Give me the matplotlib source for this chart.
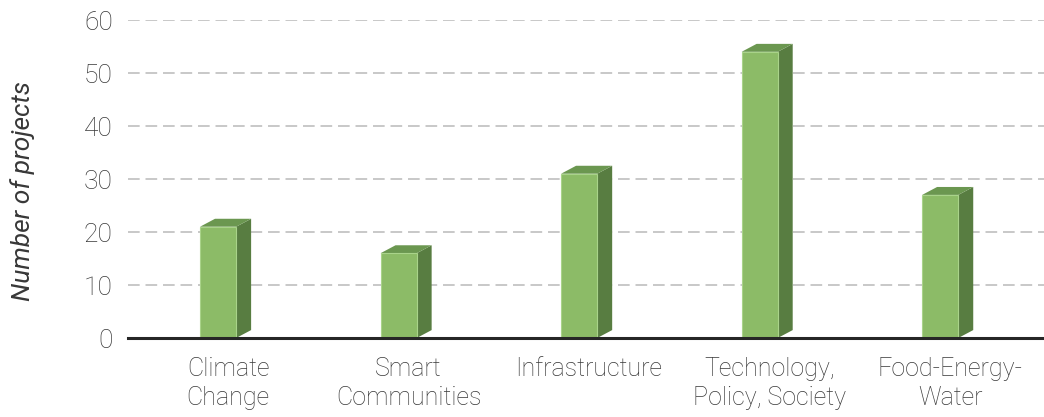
import numpy as np
import matplotlib.pyplot as plt
from matplotlib.patches import Polygon

categories = ["Climate\nChange", "Smart\nCommunities", "Infrastructure",
              "Technology,\nPolicy, Society", "Food-Energy-\nWater"]
projects = [21, 16, 31, 54, 27]
yticks = [0, 10, 20, 30, 40, 50, 60]

front_col = "#8cbb67"
side_col = "#587d41"
top_col = "#6b9750"
text_col = "#383838"

plt.rcParams.update({
    "font.family": "Roboto",
    "font.weight": "light",
})

fig = plt.figure(figsize=(10.44, 4.17), dpi=100)
ax = fig.add_axes([0.1226, 0.1894, 0.8774, 0.7626])

x = np.arange(len(categories))
w = 0.2        # front face width
off = -0.155   # front face left edge relative to category centre
dx, dy = 0.083, 1.5  # depth of the pseudo-3D extrusion

for xi, v in zip(x, projects):
    x0 = xi + off
    x1 = x0 + w
    ax.add_patch(Polygon([(x1, 0), (x1 + dx, dy), (x1 + dx, v + dy), (x1, v)],
                         closed=True, facecolor=side_col, edgecolor="none", zorder=3))
    ax.add_patch(Polygon([(x0, v), (x1, v), (x1 + dx, v + dy), (x0 + dx, v + dy)],
                         closed=True, facecolor=top_col, edgecolor="none", zorder=3))
    ax.bar(x0, v, width=w, align="edge", color=front_col,
           edgecolor="#a9d38a", linewidth=0.8, zorder=4)

ax.set_xlim(-0.554, 4.52)
ax.set_ylim(0, 60)
ax.set_yticks(yticks)
ax.set_xticks(x)
ax.set_xticklabels(categories, fontsize=18, color=text_col, linespacing=1.25)
ax.tick_params(axis="y", labelsize=19, labelcolor=text_col, length=0, pad=11)
ax.tick_params(axis="x", length=0, pad=14)

ax.yaxis.grid(True, color="#bfbfbf", linestyle=(0, (7, 3.5)), linewidth=1.2)
ax.set_axisbelow(True)

for s in ["top", "right", "left"]:
    ax.spines[s].set_visible(False)
ax.spines["bottom"].set_color("#262626")
ax.spines["bottom"].set_linewidth(2.2)
ax.spines["bottom"].set_zorder(5)

ax.set_ylabel("Number of projects", fontsize=19, style="italic", color=text_col)
ax.yaxis.set_label_coords(-0.1015, 0.462)

fig.savefig("out.png", dpi=100)
